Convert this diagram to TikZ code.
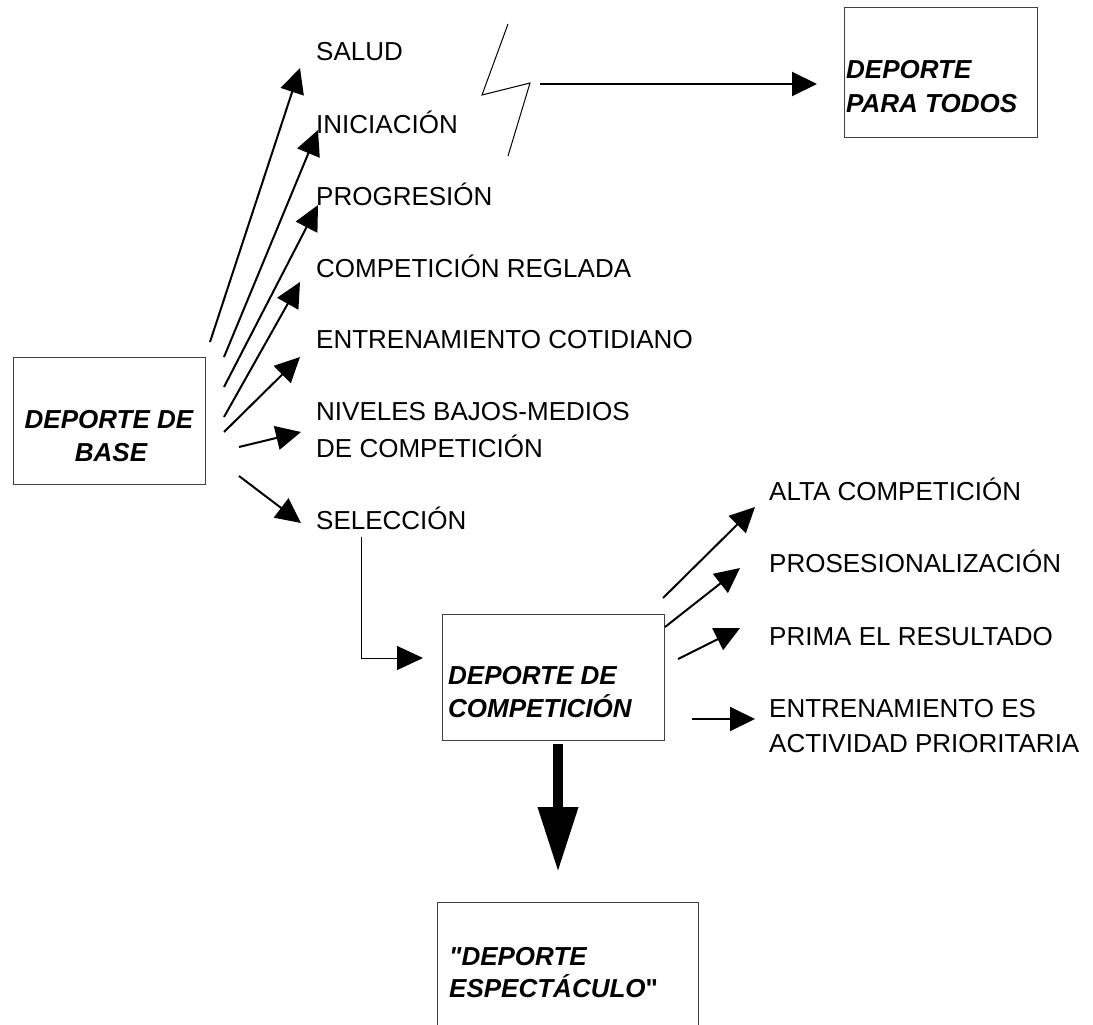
\documentclass[tikz,border=0pt]{standalone}
\usepackage{fontspec}
\setmainfont{Liberation Sans}[Ligatures=TeXOff]
\usetikzlibrary{arrows.meta}
\begin{document}
\begin{tikzpicture}[x=1pt,y=-1pt,
  box/.style={draw=black!75, line width=1pt, inner sep=0pt, outer sep=0pt},
  lbl/.style={anchor=base west, inner sep=0pt, font=\fontsize{26}{33}\selectfont},
  title/.style={inner sep=0pt, font=\fontsize{26}{33}\selectfont\bfseries\itshape},
  flow/.style={line width=2pt, -{Triangle[length=25pt,width=24pt]}},
  thinlink/.style={line width=0.9pt, -{Triangle[length=26pt,width=24pt]}},
  bigflow/.style={line width=10pt, -{Triangle[length=65pt,width=38pt]}},
]
\clip (0,0) rectangle (1093,1025);
\fill[white] (0,0) rectangle (1093,1025);

% boxes
\node[box, minimum width=192pt, minimum height=127pt] (base) at (109,420.5) {};
\node[box, minimum width=193pt, minimum height=129pt] (todos) at (940.5,72.5) {};
\node[box, minimum width=222pt, minimum height=126pt] (comp) at (553,677) {};
\node[box, minimum width=261pt, minimum height=160pt] (show) at (567.5,982) {};

% box titles
\node[title, anchor=base] (base1) at (109,428) {DEPORTE DE};
\node[title, anchor=base] (base2) at (111,461) {BASE};
\node[title, anchor=base west] (todos1) at (846,78) {DEPORTE};
\node[title, anchor=base west] (todos2) at (846,112) {PARA TODOS};
\node[title, anchor=base west] (comp1) at (448,684) {DEPORTE DE};
\node[title, anchor=base west] (comp2) at (448,717) {COMPETICIÓN};
\node[title, anchor=base west] (show1) at (449,965) {"DEPORTE};
\node[title, anchor=base west] (show2) at (449,997) {ESPECTÁCULO\upshape"};

% left-hand labels
\node[lbl] (salud) at (316,61) {SALUD};
\node[lbl] (inic) at (316,133) {INICIACIÓN};
\node[lbl] (prog) at (316,205) {PROGRESIÓN};
\node[lbl] (regl) at (316,277) {COMPETICIÓN REGLADA};
\node[lbl] (coti) at (316,348) {ENTRENAMIENTO COTIDIANO};
\node[lbl] (niv1) at (316,420) {NIVELES BAJOS-MEDIOS};
\node[lbl] (niv2) at (316,457) {DE COMPETICIÓN};
\node[lbl] (sel) at (316,529) {SELECCIÓN};

% right-hand labels
\node[lbl] (alta) at (769,500) {ALTA COMPETICIÓN};
\node[lbl] (prof) at (769,572) {PROSESIONALIZACIÓN};
\node[lbl] (prima) at (769,645) {PRIMA EL RESULTADO};
\node[lbl] (entr1) at (769,717) {ENTRENAMIENTO ES};
\node[lbl] (entr2) at (769,752) {ACTIVIDAD PRIORITARIA};

% arrow end points of the base fan
\coordinate (f1) at (210,342); \coordinate (h1) at (300,68);
\coordinate (f2) at (224,357); \coordinate (h2) at (318,130);
\coordinate (f3) at (224,387); \coordinate (h3) at (318,205);
\coordinate (f4) at (224,417); \coordinate (h4) at (300,282);
\coordinate (f5) at (224,432); \coordinate (h5) at (300,357);
\coordinate (f6) at (239,447); \coordinate (h6) at (301,432);
\coordinate (f7) at (239,476); \coordinate (h7) at (301,523);

\draw[flow] (f1) -- (h1);
\draw[flow] (f2) -- (h2);
\draw[flow] (f3) -- (h3);
\draw[flow] (f4) -- (h4);
\draw[flow] (f5) -- (h5);
\draw[flow] (f6) -- (h6);
\draw[flow] (f7) -- (h7);

% break symbol and the way to "para todos"
\draw[line width=1pt] (508,24) -- (482,95) -- (530,83) -- (508,156);
\coordinate (bolt) at (540,84);
\coordinate (todosin) at (817,84);
\draw[flow] (bolt) -- (todosin);

% selection feeds competition
\coordinate (selfoot) at (361,537);
\coordinate (compin) at (423,658);
\draw[thinlink] (selfoot) |- (compin);

% competition fan
\coordinate (g1) at (663,598); \coordinate (k1) at (755,507);
\coordinate (g2) at (665,627); \coordinate (k2) at (740,568);
\coordinate (g3) at (678,659); \coordinate (k3) at (740,628);
\coordinate (g4) at (692,719); \coordinate (k4) at (755,719);
\draw[flow] (g1) -- (k1);
\draw[flow] (g2) -- (k2);
\draw[flow] (g3) -- (k3);
\draw[flow] (g4) -- (k4);

% competition leads to spectacle
\coordinate (compfoot) at (558,744);
\coordinate (showin) at (558,872);
\draw[bigflow] (compfoot) -- (showin);
\end{tikzpicture}
\end{document}
